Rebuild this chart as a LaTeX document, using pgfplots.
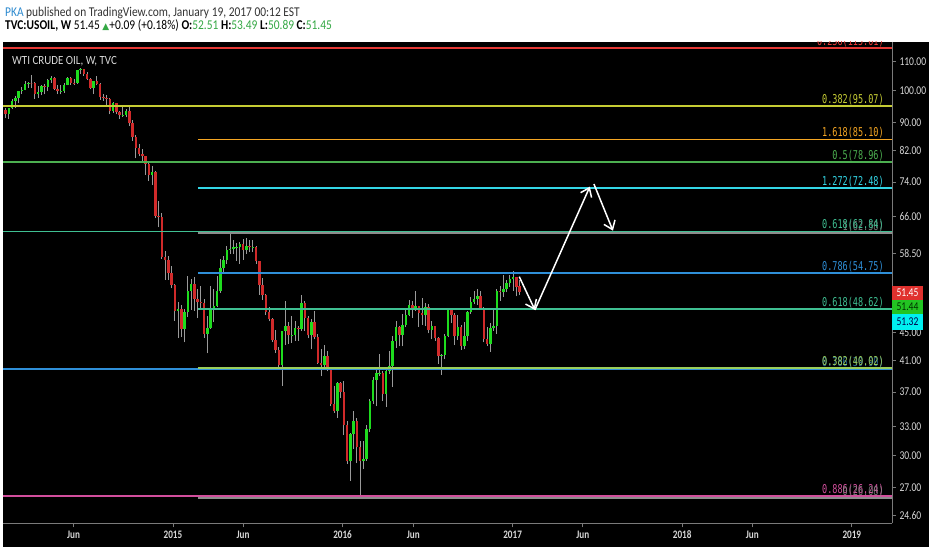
\documentclass[border=0pt]{standalone}
\usepackage{fontspec}
\usepackage{pgfplots}
\pgfplotsset{compat=1.18}
\usepackage{pgfplotstable}
\usetikzlibrary{arrows.meta}

\newfontfamily\hdr{Carlito}[FakeStretch=0.85]
\newfontfamily\axf{Carlito}[FakeStretch=0.8]
\newfontfamily\wtif{Carlito}[FakeStretch=0.88]
\newfontfamily\fibf{DejaVu Sans Mono}[FakeStretch=0.7]
\newfontfamily\symf{DejaVu Sans}

\definecolor{upc}{HTML}{1EDC1E}
\definecolor{dnc}{HTML}{D02A2A}
\definecolor{wick}{HTML}{9A9A9A}
\definecolor{axgrey}{HTML}{7A7A7A}
\definecolor{lbl}{HTML}{D8D8D8}
\definecolor{pkablue}{HTML}{2E8BD0}
\definecolor{hdrtxt}{HTML}{333333}
\definecolor{hdrgreen}{HTML}{34A844}
\definecolor{fibred}{HTML}{E53935}
\definecolor{fibolive}{HTML}{C6CC34}
\definecolor{fiborange}{HTML}{F5A623}
\definecolor{fibgreen}{HTML}{4CAF50}
\definecolor{fibcyan}{HTML}{33D6E6}
\definecolor{fibteal}{HTML}{3FBF92}
\definecolor{fibblue}{HTML}{2F8FD8}
\definecolor{fiblime}{HTML}{9ACD5A}
\definecolor{fibpink}{HTML}{D24E9C}
\definecolor{fibgrey}{HTML}{8C8C8C}
\definecolor{tagred}{HTML}{E0312E}
\definecolor{taggreen}{HTML}{22C422}
\definecolor{tagcyan}{HTML}{00F0F0}

% weekly candles, w = weeks after Mon 30 Dec 2013
\pgfplotstableread{
w o h l c
1 93.96 94.40 91.24 92.72
2 92.72 94.55 91.08 94.37
3 94.37 97.33 94.10 96.64
4 96.64 98.35 94.45 97.49
5 97.49 99.92 96.00 99.88
6 99.88 101.10 98.90 100.30
7 100.30 103.40 100.10 102.20
8 102.20 103.00 100.90 102.59
9 102.59 105.22 100.79 102.58
10 102.58 102.95 97.37 98.89
11 98.89 101.50 97.70 99.46
12 99.46 101.80 98.50 101.67
13 101.67 102.10 98.80 101.14
14 101.14 104.10 99.80 103.74
15 103.74 104.99 102.70 104.30
16 104.30 104.50 100.35 100.60
17 100.60 101.80 98.90 99.76
18 99.76 101.90 98.80 99.99
19 99.99 102.40 99.30 102.02
20 102.02 104.50 101.80 104.35
21 104.35 104.60 102.00 102.71
22 102.71 104.10 101.80 102.66
23 102.66 107.00 102.30 106.91
24 106.91 107.73 105.70 107.26
25 107.26 107.50 105.00 105.74
26 105.74 106.20 103.50 104.06
27 104.06 104.40 100.40 100.83
28 100.83 103.40 98.90 103.13
29 103.13 105.00 101.80 102.09
30 102.09 102.50 97.10 97.88
31 97.88 98.80 96.80 97.65
32 97.65 98.60 95.50 97.35
33 97.35 97.60 92.50 93.65
34 93.65 96.20 92.90 95.96
35 95.96 96.00 92.50 93.29
36 93.29 93.60 91.20 92.27
37 92.27 94.90 91.80 92.41
38 92.41 94.20 91.60 93.54
39 93.54 95.00 88.90 89.74
40 89.74 90.90 84.80 85.82
41 85.82 86.50 80.01 82.75
42 82.75 84.00 80.50 81.01
43 81.01 82.50 78.90 80.54
44 80.54 80.60 75.84 78.65
45 78.65 79.00 74.20 75.82
46 75.82 77.90 73.25 76.51
47 76.51 76.80 65.69 66.15
48 66.15 69.50 63.72 65.84
49 65.84 66.80 57.35 57.81
50 57.81 59.00 53.60 57.13
51 57.13 58.00 53.60 54.73
52 54.73 56.00 52.08 52.69
53 52.69 52.90 46.83 48.36
54 48.36 49.80 44.20 48.69
55 48.69 49.30 44.35 45.59
56 45.59 48.70 43.58 48.24
57 48.24 54.24 47.40 51.69
58 51.69 53.80 48.50 52.78
59 52.78 54.00 48.40 50.34
60 50.34 51.90 47.20 49.76
61 49.76 52.50 48.50 49.61
62 49.61 50.30 44.20 44.84
63 44.84 47.50 42.03 45.72
64 45.72 52.48 45.60 48.87
65 48.87 52.00 46.60 49.14
66 49.14 54.20 49.00 51.64
67 51.64 57.40 51.30 55.74
68 55.74 57.90 54.90 57.15
69 57.15 59.90 56.50 59.15
70 59.15 62.58 58.40 59.39
71 59.39 61.10 58.30 59.69
72 59.69 60.50 57.10 59.72
73 59.72 60.70 56.50 60.30
74 60.30 61.40 57.20 59.13
75 59.13 61.57 58.40 59.96
76 59.96 61.00 58.80 59.61
77 59.61 61.10 58.70 59.63
78 59.63 59.90 56.50 56.93
79 56.93 57.00 51.00 52.74
80 52.74 53.90 50.20 50.89
81 50.89 51.20 47.75 48.14
82 48.14 49.00 46.70 47.12
83 47.12 47.20 43.60 43.87
84 43.87 45.40 42.10 42.50
85 42.50 42.90 39.90 40.45
86 40.45 45.30 37.75 45.22
87 45.22 50.00 43.20 46.05
88 46.05 46.60 43.40 44.63
89 44.63 47.60 43.50 44.68
90 44.68 46.80 43.80 45.70
91 45.70 46.00 43.80 45.54
92 45.54 50.92 45.30 49.63
93 49.63 49.90 45.30 47.26
94 47.26 47.50 44.20 44.60
95 44.60 47.00 42.60 46.59
96 46.59 48.40 44.00 44.29
97 44.29 44.80 40.60 40.74
98 40.74 42.70 38.99 40.39
99 40.39 43.20 39.80 41.71
100 41.71 42.40 39.60 39.97
101 39.97 40.10 35.30 35.62
102 35.62 37.70 34.53 34.73
103 34.73 38.30 33.98 38.10
104 38.10 38.30 36.30 37.04
105 37.04 38.40 32.10 33.16
106 33.16 33.60 29.20 29.42
107 29.42 32.35 27.56 32.19
108 32.19 34.80 30.70 33.62
109 33.62 34.00 29.25 30.89
110 30.89 31.50 26.05 29.44
111 29.44 31.50 28.70 29.64
112 29.64 33.20 29.50 32.78
113 32.78 36.20 32.40 35.92
114 35.92 38.90 35.60 38.50
115 38.50 40.20 35.30 39.44
116 39.44 42.00 39.00 39.46
117 39.46 39.70 35.90 36.79
118 36.79 40.00 35.20 39.72
119 39.72 42.40 39.30 40.36
120 40.36 44.50 37.60 43.73
121 43.73 46.78 42.80 45.92
122 45.92 46.00 43.00 44.66
123 44.66 47.80 43.00 46.21
124 46.21 48.60 45.80 47.75
125 47.75 50.20 47.50 49.33
126 49.33 50.00 47.30 48.62
127 48.62 51.67 48.40 49.07
128 49.07 49.20 45.83 47.98
129 47.98 50.50 46.20 47.64
130 47.64 49.60 46.00 48.99
131 48.99 49.40 44.90 45.41
132 45.41 46.80 44.00 45.95
133 45.95 46.00 43.80 44.19
134 44.19 44.40 40.60 41.60
135 41.60 42.00 39.19 41.80
136 41.80 44.80 41.20 44.49
137 44.49 48.75 44.30 48.52
138 48.52 48.60 46.40 47.64
139 47.64 48.00 43.20 44.44
140 44.44 47.70 43.90 45.88
141 45.88 46.20 42.50 43.03
142 43.03 46.60 42.60 44.48
143 44.48 48.30 43.80 48.24
144 48.24 50.70 47.90 49.81
145 49.81 51.60 49.40 50.35
146 50.35 51.93 49.30 50.85
147 50.85 51.60 48.60 48.70
148 48.70 48.90 43.57 44.07
149 44.07 45.90 43.03 43.41
150 43.41 46.50 42.20 45.69
151 45.69 48.60 45.30 46.06
152 46.06 51.90 44.82 51.68
153 51.68 52.42 49.95 51.50
154 51.50 54.51 50.60 51.90
155 51.90 53.50 51.40 53.02
156 53.02 54.37 52.30 53.72
157 53.72 55.24 51.70 53.99
158 53.99 54.00 50.71 52.37
159 52.51 53.49 50.89 51.45
}\candles

\begin{document}
\begin{tikzpicture}
% page and chart pane (1bp = 1px of the reference)
\fill[white] (0,0) rectangle (932bp,550bp);
\fill[black] (3bp,3.3bp) rectangle (929bp,508bp);

\begin{axis}[
  at={(3bp,26.7bp)}, anchor=south west,
  scale only axis, width=889bp, height=481.3bp,
  xmin=0.17, xmax=273.5,
  ymode=log, ymin=23.99, ymax=117.43,
  axis background/.style={fill=black},
  axis x line*=bottom, axis y line*=right,
  axis line style={-, draw=axgrey, line width=0.8bp},
  tick align=outside, major tick length=4bp,
  tick style={draw=axgrey, line width=0.8bp},
  yminorticks=false, xminorticks=false,
  xtick={21.86,52.43,74.0,104.57,126.3,156.86,178.43,209,230.57,261.14},
  xticklabels={Jun,2015,Jun,2016,Jun,2017,Jun,2018,Jun,2019},
  ytick={24.6,27,30,33,37,41,45,58.5,66,74,82,90,100,110},
  yticklabels={24.60,27.00,30.00,33.00,37.00,41.00,45.00,58.50,66.00,74.00,82.00,90.00,100.00,110.00},
  xticklabel style={font=\axf\bfseries\fontsize{11.5}{12}\selectfont, text=lbl},
  yticklabel style={font=\axf\fontsize{12}{12}\selectfont, text=lbl},
  /pgf/number format/assume math mode=true,
  fibline/.style={line width=1.8bp},
]

% wicks
\addplot[draw=none, mark=none, forget plot,
  error bars/.cd, y dir=plus, y explicit, error mark=none,
  error bar style={draw=wick, line width=1bp}]
  table[x=w, y=l, y error expr=\thisrow{h}-\thisrow{l}] {\candles};
% rising bodies
\addplot[draw=none, mark=none, forget plot,
  restrict expr to domain={\thisrow{c}-\thisrow{o}}{0:1000},
  error bars/.cd, y dir=plus, y explicit, error mark=none,
  error bar style={draw=upc, line width=2.5bp}]
  table[x=w, y=o, y error expr=\thisrow{c}-\thisrow{o}] {\candles};
% falling bodies
\addplot[draw=none, mark=none, forget plot,
  restrict expr to domain={\thisrow{o}-\thisrow{c}}{0.0001:1000},
  error bars/.cd, y dir=plus, y explicit, error mark=none,
  error bar style={draw=dnc, line width=2.5bp}]
  table[x=w, y=c, y error expr=\thisrow{o}-\thisrow{c}] {\candles};

% second set of levels that lie under the first set
\addplot[fibgrey, fibline] coordinates {(60.1,62.54) (273.5,62.54)};
\addplot[fibgrey, fibline] coordinates {(60.1,26.08) (273.5,26.08)};
% fibonacci levels, first set (whole width)
\addplot[fibred, fibline] coordinates {(0.17,115.01) (273.5,115.01)};
\addplot[fibolive, fibline] coordinates {(0.17,95.07) (273.5,95.07)};
\addplot[fibgreen, fibline] coordinates {(0.17,78.96) (273.5,78.96)};
\addplot[fibteal, fibline] coordinates {(0.17,62.84) (273.5,62.84)};
\addplot[fibblue, fibline] coordinates {(0.17,39.90) (273.5,39.90)};
\addplot[fibpink, fibline] coordinates {(0.17,26.24) (273.5,26.24)};
% second set (from early 2015)
\addplot[fiborange, fibline] coordinates {(60.1,85.10) (273.5,85.10)};
\addplot[fibcyan, fibline] coordinates {(60.1,72.48) (273.5,72.48)};
\addplot[fibblue, fibline] coordinates {(60.1,54.75) (273.5,54.75)};
\addplot[fibteal, fibline] coordinates {(60.1,48.62) (273.5,48.62)};
\addplot[fiblime, fibline] coordinates {(60.1,40.02) (273.5,40.02)};

% projected path
\addplot[white, line width=1.5bp, -{Straight Barb[length=8bp,width=12bp]}]
  coordinates {(158.9,54.13) (163.7,48.51)};
\addplot[white, line width=1.5bp, -{Straight Barb[length=8bp,width=12bp]}]
  coordinates {(163.7,48.51) (180.6,72.86)};
\addplot[white, line width=1.5bp, -{Straight Barb[length=8bp,width=12bp]}]
  coordinates {(181.85,73.5) (187.7,63.0)};

% level labels
\begin{scope}[every node/.style={anchor=south east, inner sep=1bp,
    font=\fibf\fontsize{12.2}{12}\selectfont}]
  \clip (rel axis cs:0,0) rectangle (rel axis cs:1,1);
  \node[text=fibred] at (axis cs:271.3,115.01) {0.236(115.01)};
  \node[text=fibolive] at (axis cs:271.3,95.07) {0.382(95.07)};
  \node[text=fiborange] at (axis cs:271.3,85.10) {1.618(85.10)};
  \node[text=fibgreen] at (axis cs:271.3,78.96) {0.5(78.96)};
  \node[text=fibcyan] at (axis cs:271.3,72.48) {1.272(72.48)};
  \node[text=fibgrey, opacity=0.8] at (axis cs:271.3,62.54) {1(62.58)};
  \node[text=fibteal] at (axis cs:271.3,62.84) {0.618(62.84)};
  \node[text=fibblue] at (axis cs:271.3,54.75) {0.786(54.75)};
  \node[text=fibteal] at (axis cs:271.3,48.62) {0.618(48.62)};
  \node[text=fibblue, opacity=0.7] at (axis cs:271.3,39.90) {0.786(39.90)};
  \node[text=fiblime] at (axis cs:271.3,40.02) {0.382(40.02)};
  \node[text=fibpink] at (axis cs:271.3,26.24) {0.886(26.24)};
  \node[text=fibgrey, opacity=0.8] at (axis cs:271.3,26.08) {0(26.08)};
\end{scope}
\end{axis}

% price tags on the scale
\fill[tagred] (892bp,250bp) rectangle (923bp,264bp);
\fill[taggreen] (892bp,236bp) rectangle (923bp,250bp);
\fill[tagcyan] (892bp,220bp) rectangle (923bp,236bp);
\begin{scope}[every node/.style={inner sep=0, font=\axf\fontsize{12}{12}\selectfont}]
  \node[text=white] at (907.5bp,257bp) {51.45};
  \node[text=black!80!green] at (907.5bp,243bp) {51.44};
  \node[text=black!70!blue] at (907.5bp,228bp) {51.32};
\end{scope}

% symbol name inside the pane
\node[anchor=base west, inner sep=0, text=lbl] at (12bp,485bp)
  {\wtif\fontsize{12.5}{13}\selectfont WTI CRUDE OIL, W, TVC};

% header
\node[anchor=base west, inner sep=0, text=hdrtxt] at (5bp,533.5bp)
  {\hdr\fontsize{13.5}{14}\selectfont\textcolor{pkablue}{PKA} published on TradingView.com, January 19, 2017 00:12 EST};
\node[anchor=base west, inner sep=0, text=black] at (5bp,520bp)
  {\hdr\fontsize{13.5}{14}\selectfont\textbf{TVC:USOIL, W} 51.45 {\symf\fontsize{9}{9}\selectfont\textcolor{hdrgreen}{▲}}+0.09 (+0.18\%) \textbf{O:}\textcolor{hdrgreen}{52.51} \textbf{H:}\textcolor{hdrgreen}{53.49} \textbf{L:}\textcolor{hdrgreen}{50.89} \textbf{C:}\textcolor{hdrgreen}{51.45}};
\end{tikzpicture}
\end{document}
